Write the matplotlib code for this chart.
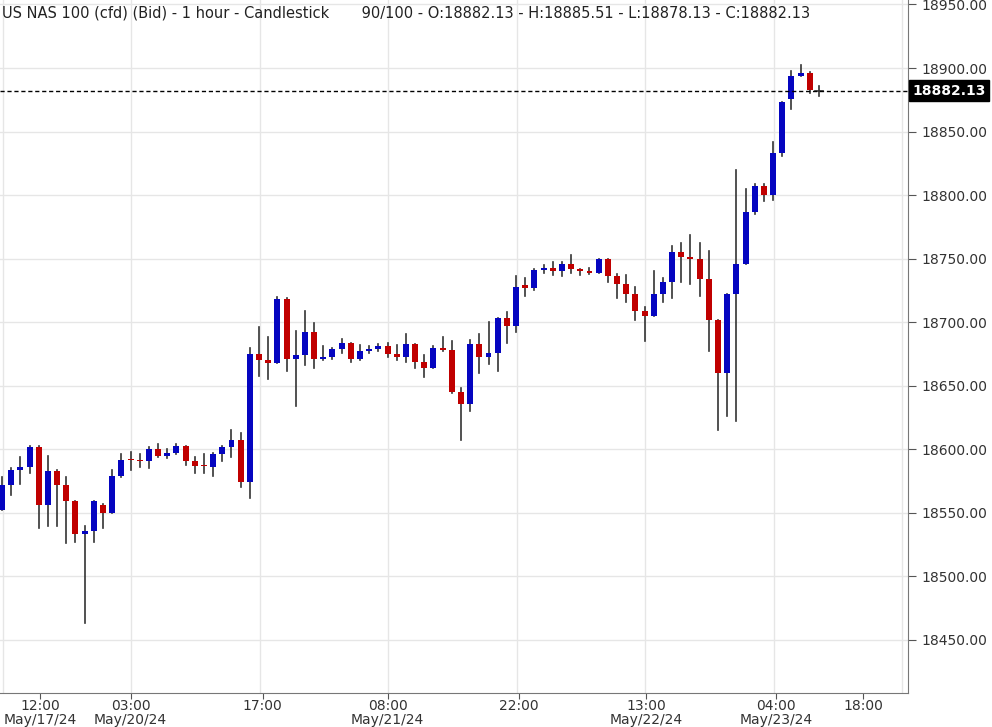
import matplotlib.pyplot as plt
from matplotlib.patches import Rectangle

# hourly candles
opens = [18552,18572,18584,18586,18602,18556,18583,18572,18559,18533,
         18536,18556,18550,18579,18592.5,18591.5,18591,18600,18595,18597,
         18603,18591,18587.5,18586,18596,18602,18607,18574,18675,18670,
         18668,18718,18671,18674,18692,18671,18673,18679,18684,18671,
         18677,18679,18681,18675,18673,18683,18669,18664,18680,18678,
         18645,18636,18683,18673,18676,18703,18697,18729,18727,18741,
         18743,18740,18746,18742,18740,18739,18750,18736,18730,18722,
         18709,18705,18722,18732,18755,18751,18750,18734,18702,18660,
         18722,18746,18787,18807,18800,18833,18876,18894,18896,18882.13]
highs = [18578,18585,18594,18603,18603,18595,18584,18578,18559,18540,
         18559,18557,18584,18596,18598,18596,18602,18604,18600,18604,
         18603,18594,18596,18597,18603,18615,18613,18680,18696,18688,
         18720,18719,18693,18709,18699,18681,18680,18687,18684,18682,
         18681,18683,18684,18682,18691,18683,18674,18681,18688,18685,
         18648,18686,18691,18700,18703,18708,18736,18735,18742,18745,
         18747,18747,18753,18742,18743,18750,18750,18738,18737,18728,
         18712,18740,18735,18760,18762,18769,18762,18756,18702,18722,
         18820,18805,18809,18809,18842,18873,18898,18902,18897,18885.51]
lows = [18552,18564,18573,18581,18538,18540,18540,18526,18527,18463,
        18527,18538,18550,18578,18584,18586,18585,18594,18593,18596,
        18588,18581,18581,18579,18591,18594,18570,18562,18658,18655,
        18668,18662,18634,18666,18664,18670,18671,18676,18669,18670,
        18676,18677,18673,18670,18669,18664,18657,18664,18677,18644,
        18607,18630,18660,18667,18662,18684,18692,18721,18725,18739,
        18737,18736,18739,18737,18738,18739,18732,18719,18716,18702,
        18685,18705,18716,18719,18732,18730,18721,18677,18615,18626,
        18622,18746,18785,18795,18796,18831,18868,18894,18880,18878.13]
closes = [18572,18584,18586,18602,18556,18583,18572,18559,18533,18536,
          18559,18550,18579,18592,18591.5,18590.5,18600,18595,18597,18603,
          18591,18587,18586.5,18596,18602,18607,18574,18675,18670,18668,
          18718,18671,18674,18692,18671,18673,18679,18684,18671,18677,
          18679,18681,18675,18673,18683,18669,18664,18680,18678,18645,
          18636,18683,18673,18676,18703,18697,18728,18727,18741,18743,
          18740,18746,18742,18740,18739,18750,18736,18730,18722,18709,
          18705,18722,18732,18755,18751,18750,18734,18702,18660,18722,
          18746,18787,18807,18800,18833,18873,18894,18896,18883,18882.13]

time_labels = ['12:00\nMay/17/24', '03:00\nMay/20/24', '17:00', '08:00\nMay/21/24',
               '22:00', '13:00\nMay/22/24', '04:00\nMay/23/24', '18:00']
label_pos = [4.15, 14, 28.4, 42, 56.3, 70.2, 84.3, 93.8]
price_ticks = [18400, 18450, 18500, 18550, 18600, 18650, 18700, 18750, 18800, 18850, 18900, 18950]
last_price = 18882.13

blue = '#0505c0'
red = '#c00000'

fig = plt.figure(figsize=(9.92, 7.27), dpi=100)
ax = fig.add_axes([0, 34/727, 908/992, 693/727])

for x in range(0, 99, 14):
    ax.axvline(x + 0.1, color='#e6e6e6', lw=1, zorder=0)
for p in price_ticks:
    ax.axhline(p, color='#e6e6e6', lw=1, zorder=0)

w = 0.65
for i, (o, h, l, c) in enumerate(zip(opens, highs, lows, closes)):
    ax.plot([i, i], [l, h], color='#333333', lw=1.2, zorder=2)
    if i == len(opens) - 1:
        ax.plot([i - 0.4, i + 0.4], [c, c], color='#333333', lw=1.2, zorder=3)
        continue
    col = blue if c >= o else red
    bot, top = min(o, c), max(o, c)
    ax.add_patch(Rectangle((i - w / 2, bot), w, max(top - bot, 1.2), color=col, lw=0, zorder=3))

ax.axhline(last_price, color='black', lw=1, ls=(0, (3, 2)), zorder=4)

ax.set_xlim(-0.22, 98.7)
ax.set_ylim(18408.3, 18953.5)
ax.yaxis.tick_right()
ax.set_yticks(price_ticks[1:])
ax.set_yticklabels([f'{p:.2f}' for p in price_ticks[1:]])
ax.tick_params(axis='y', length=6, color='#555555', labelsize=10, labelcolor='#333333', pad=4)
ax.set_xticks(label_pos)
ax.set_xticklabels(time_labels, linespacing=1.05)
ax.tick_params(axis='x', length=4, color='#555555', labelsize=10, labelcolor='#333333', pad=0)
for s in ['top', 'left']:
    ax.spines[s].set_visible(False)
for s in ['right', 'bottom']:
    ax.spines[s].set_color('#777777')

ax.text(1.005, last_price, f'{last_price:.2f}', transform=ax.get_yaxis_transform(),
        va='center', ha='left', fontsize=10, color='white', fontweight='bold',
        bbox=dict(boxstyle='square,pad=0.25', fc='black', ec='black'), clip_on=False, zorder=6)

ax.text(0.002, 0.992, 'US NAS 100 (cfd) (Bid) - 1 hour - Candlestick       90/100 - O:18882.13 - H:18885.51 - L:18878.13 - C:18882.13',
        transform=ax.transAxes, ha='left', va='top', fontsize=10.5, color='#222222')

fig.savefig('out.png', dpi=100)
